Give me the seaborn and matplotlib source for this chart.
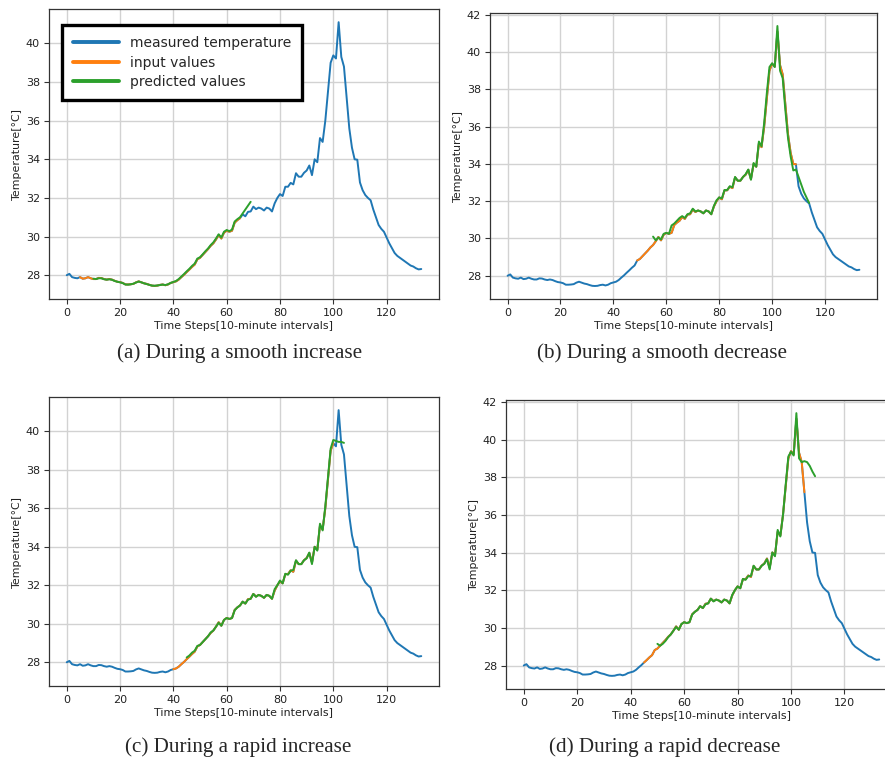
import numpy as np
import matplotlib
matplotlib.use("Agg")
import matplotlib.pyplot as plt
import seaborn as sns

# measured temperature, one value per 10-minute step (t = 0..133)
measured = [
    28.00, 28.07, 27.90, 27.86, 27.84, 27.90, 27.82, 27.84, 27.90, 27.84,
    27.80, 27.80, 27.86, 27.85, 27.80, 27.77, 27.80, 27.77, 27.71, 27.66,
    27.64, 27.60, 27.52, 27.52, 27.53, 27.55, 27.63, 27.68, 27.63, 27.58,
    27.55, 27.50, 27.46, 27.45, 27.46, 27.50, 27.52, 27.48, 27.52, 27.60,
    27.64, 27.68, 27.77, 27.90, 28.02, 28.16, 28.29, 28.43, 28.55, 28.82,
    28.90, 29.05, 29.20, 29.35, 29.52, 29.65, 29.85, 30.08, 29.90, 30.20,
    30.30, 30.25, 30.30, 30.72, 30.85, 30.95, 31.15, 31.05, 31.28, 31.30,
    31.55, 31.42, 31.50, 31.45, 31.35, 31.50, 31.45, 31.30, 31.72, 32.00,
    32.20, 32.10, 32.58, 32.58, 32.78, 32.70, 33.28, 33.10, 33.10, 33.30,
    33.42, 33.68, 33.18, 34.00, 33.85, 35.10, 34.90, 36.00, 37.50, 39.00,
    39.38, 39.22, 41.10, 39.30, 38.80, 37.20, 35.60, 34.60, 34.00, 33.98,
    32.80, 32.40, 32.15, 32.00, 31.88, 31.40, 31.00, 30.60, 30.40, 30.25,
    29.95, 29.65, 29.40, 29.15, 29.00, 28.90, 28.80, 28.70, 28.60, 28.50,
    28.45, 28.36, 28.30, 28.32,
]

# input windows (first, last step) for each panel
input_windows = {"a": (5, 65), "b": (49, 109), "c": (40, 100), "d": (45, 105)}

# predicted values, first step of each panel
pred_start = {"a": 10, "b": 55, "c": 45, "d": 50}

pred_a = [
    27.82, 27.80, 27.84, 27.84, 27.79, 27.77, 27.79, 27.76, 27.70, 27.66,
    27.63, 27.59, 27.52, 27.51, 27.53, 27.56, 27.62, 27.67, 27.63, 27.58,
    27.54, 27.50, 27.46, 27.45, 27.47, 27.49, 27.51, 27.49, 27.53, 27.60,
    27.65, 27.70, 27.80, 27.93, 28.06, 28.20, 28.33, 28.48, 28.60, 28.86,
    28.93, 29.08, 29.24, 29.38, 29.56, 29.70, 29.90, 30.12, 29.95, 30.25,
    30.34, 30.28, 30.36, 30.78, 30.90, 31.00, 31.20, 31.40, 31.60, 31.80,
]
pred_b = [
    30.10, 29.90, 30.05, 29.95, 30.25, 30.30, 30.25, 30.70, 30.80, 30.95,
    31.10, 31.20, 31.10, 31.30, 31.35, 31.60, 31.45, 31.50, 31.45, 31.35,
    31.50, 31.45, 31.30, 31.75, 32.05, 32.20, 32.15, 32.60, 32.60, 32.80,
    32.75, 33.30, 33.10, 33.10, 33.30, 33.45, 33.70, 33.15, 34.05, 33.85,
    35.20, 34.95, 36.20, 37.80, 39.20, 39.40, 39.20, 41.40, 39.00, 38.60,
    36.90, 35.40, 34.40, 33.65, 33.70, 33.30, 32.90, 32.50, 32.20, 31.90,
]
pred_c = [
    28.25, 28.35, 28.50, 28.60, 28.85, 28.90, 29.05, 29.20, 29.35, 29.55,
    29.65, 29.85, 30.05, 29.90, 30.20, 30.30, 30.25, 30.30, 30.70, 30.85,
    30.95, 31.15, 31.05, 31.25, 31.30, 31.55, 31.40, 31.50, 31.45, 31.35,
    31.50, 31.45, 31.30, 31.80, 32.00, 32.25, 32.10, 32.60, 32.55, 32.75,
    32.80, 33.30, 33.10, 33.10, 33.30, 33.40, 33.70, 33.10, 34.00, 33.80,
    35.20, 34.85, 36.10, 37.60, 39.10, 39.55, 39.50, 39.45, 39.45, 39.40,
]
pred_d = [
    29.15, 29.05, 29.15, 29.30, 29.50, 29.65, 29.85, 30.05, 29.90, 30.20,
    30.30, 30.25, 30.30, 30.70, 30.85, 30.95, 31.15, 31.05, 31.25, 31.30,
    31.55, 31.40, 31.50, 31.45, 31.35, 31.50, 31.45, 31.30, 31.75, 32.00,
    32.20, 32.10, 32.60, 32.55, 32.75, 32.75, 33.30, 33.10, 33.10, 33.30,
    33.40, 33.65, 33.10, 34.00, 33.80, 35.20, 34.85, 36.00, 37.60, 39.10,
    39.35, 39.15, 41.40, 39.00, 38.80, 38.85, 38.80, 38.60, 38.30, 38.05,
]
predicted = {"a": pred_a, "b": pred_b, "c": pred_c, "d": pred_d}

captions = {
    "a": "(a) During a smooth increase",
    "b": "(b) During a smooth decrease",
    "c": "(c) During a rapid increase",
    "d": "(d) During a rapid decrease",
}
x_ticks = [0, 20, 40, 60, 80, 100, 120]
y_ticks_low = [28, 30, 32, 34, 36, 38, 40]
y_ticks_high = [28, 30, 32, 34, 36, 38, 40, 42]

W, H = 885, 762


def px_rect(left, top, right, bottom):
    return [left / W, 1 - bottom / H, (right - left) / W, (bottom - top) / H]


# axes boxes in pixels (left, top, right, bottom); panel d runs past the edge
boxes = {
    "a": (49, 9, 439, 299),
    "b": (490, 13, 877, 299),
    "c": (49, 397, 439, 686),
    "d": (506, 400, 897, 689),
}
caption_pos = {"a": (240, 353), "b": (662, 353), "c": (238, 747), "d": (665, 747)}

sns.set_theme(style="ticks")
plt.rcParams["font.family"] = ["DejaVu Sans"]
plt.rcParams["axes.edgecolor"] = "#333333"
plt.rcParams["axes.linewidth"] = 0.9

fig = plt.figure(figsize=(W / 100, H / 100), dpi=100)
fig.patch.set_facecolor("white")

t_all = np.arange(len(measured))
meas = np.array(measured)
blue, orange, green = "#1f77b4", "#ff7f0e", "#2ca02c"

for key in ["a", "b", "c", "d"]:
    ax = fig.add_axes(px_rect(*boxes[key]))
    ax.grid(True, color="#d2d2d2", linewidth=1.0)
    ax.set_axisbelow(True)

    i0, i1 = input_windows[key]
    p = np.array(predicted[key])
    tp = np.arange(pred_start[key], pred_start[key] + len(p))

    sns.lineplot(x=t_all, y=meas, ax=ax, color=blue, linewidth=1.4,
                 label="measured temperature")
    sns.lineplot(x=t_all[i0:i1 + 1], y=meas[i0:i1 + 1], ax=ax, color=orange,
                 linewidth=1.4, label="input values")
    sns.lineplot(x=tp, y=p, ax=ax, color=green, linewidth=1.4,
                 label="predicted values")

    ax.set_xticks(x_ticks)
    ax.set_yticks(y_ticks_high if key in ("b", "d") else y_ticks_low)
    ax.tick_params(labelsize=8, length=3.5, width=0.8, colors="#333333",
                   labelcolor="#222222", pad=3)
    ax.set_xlabel("Time Steps[10-minute intervals]", fontsize=7.9,
                  color="#222222", labelpad=2)
    ax.set_ylabel("Temperature[°C]", fontsize=7.9, color="#222222", labelpad=3)

    if key == "a":
        leg = ax.legend(loc="upper left", bbox_to_anchor=(13 / 390, 1 - 16 / 290),
                        borderaxespad=0, fontsize=10, handlelength=3.3,
                        handletextpad=0.8, labelspacing=0.4, fancybox=False,
                        framealpha=1, edgecolor="black", borderpad=0.8)
        leg.get_frame().set_linewidth(2.4)
        for line in leg.get_lines():
            line.set_linewidth(2.8)
    else:
        ax.get_legend().remove()

    cx, cy = caption_pos[key]
    fig.text(cx / W, 1 - cy / H, captions[key], ha="center", va="center",
             fontsize=15.2, family=["Liberation Serif", "DejaVu Serif"])

fig.savefig("out.png", dpi=100)
